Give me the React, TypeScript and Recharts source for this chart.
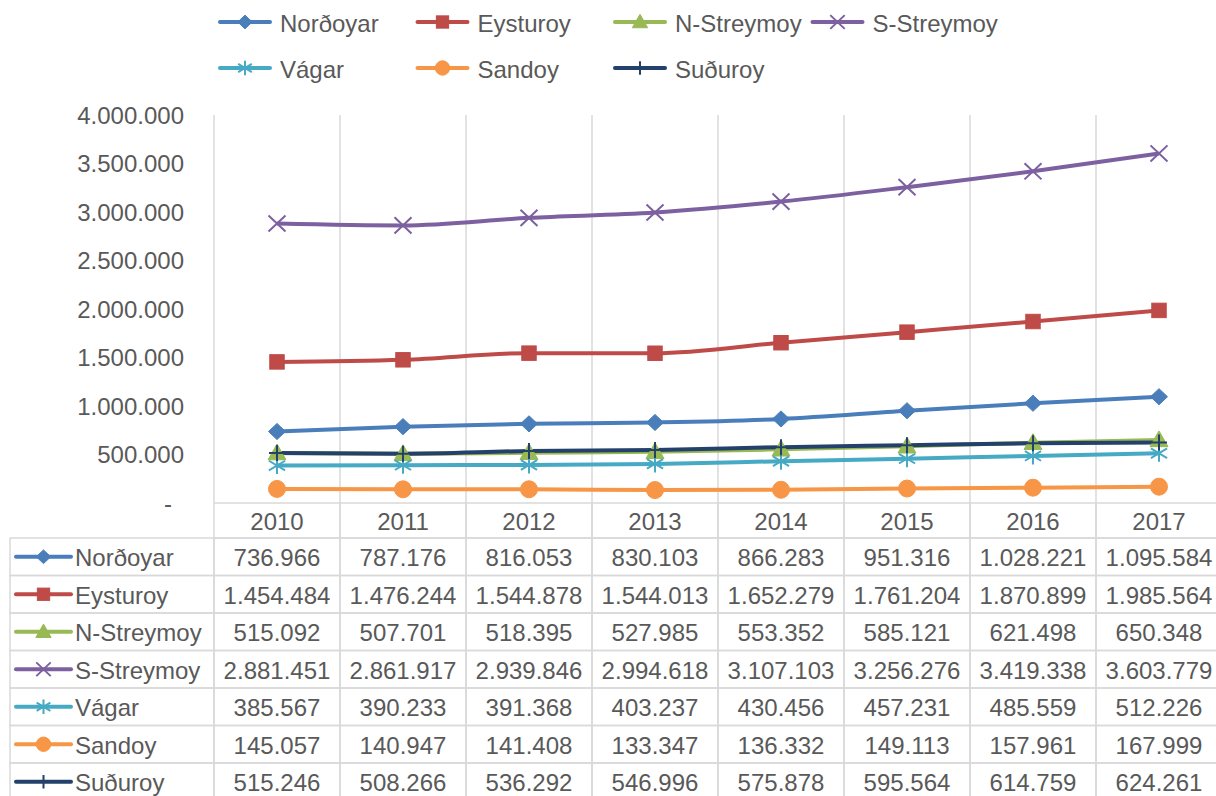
import React from 'react';
import { LineChart, Line, XAxis, YAxis, CartesianGrid } from 'recharts';

const years = ['2010', '2011', '2012', '2013', '2014', '2015', '2016', '2017'];
const nordoyar = [736966, 787176, 816053, 830103, 866283, 951316, 1028221, 1095584];
const eysturoy = [1454484, 1476244, 1544878, 1544013, 1652279, 1761204, 1870899, 1985564];
const nStreymoy = [515092, 507701, 518395, 527985, 553352, 585121, 621498, 650348];
const sStreymoy = [2881451, 2861917, 2939846, 2994618, 3107103, 3256276, 3419338, 3603779];
const vagar = [385567, 390233, 391368, 403237, 430456, 457231, 485559, 512226];
const sandoy = [145057, 140947, 141408, 133347, 136332, 149113, 157961, 167999];
const suduroy = [515246, 508266, 536292, 546996, 575878, 595564, 614759, 624261];
const yTicks = [0, 500000, 1000000, 1500000, 2000000, 2500000, 3000000, 3500000, 4000000];

type Shape = 'diamond' | 'square' | 'triangle' | 'x' | 'star' | 'circle' | 'plus';
interface Series { key: string; name: string; values: number[]; color: string; shape: Shape; }

const series: Series[] = [
  { key: 'nordoyar', name: 'Norðoyar', values: nordoyar, color: '#4A7EBB', shape: 'diamond' },
  { key: 'eysturoy', name: 'Eysturoy', values: eysturoy, color: '#BE4B48', shape: 'square' },
  { key: 'nStreymoy', name: 'N-Streymoy', values: nStreymoy, color: '#98B954', shape: 'triangle' },
  { key: 'sStreymoy', name: 'S-Streymoy', values: sStreymoy, color: '#7D60A0', shape: 'x' },
  { key: 'vagar', name: 'Vágar', values: vagar, color: '#46AAC5', shape: 'star' },
  { key: 'sandoy', name: 'Sandoy', values: sandoy, color: '#F79646', shape: 'circle' },
  { key: 'suduroy', name: 'Suðuroy', values: suduroy, color: '#23416B', shape: 'plus' },
];

const data = years.map((y, i) => {
  const row: Record<string, any> = { year: y };
  series.forEach((s) => { row[s.key] = s.values[i]; });
  return row;
});

// layout
const CHART_W = 1222;
const CHART_H = 796;
const Y_W = 214;
const TOP = 115;
const X_H = 293;
const BAND = (CHART_W - Y_W) / years.length;
const HEADER_H = 35;
const ROW_H = 37.5;
const TABLE_LEFT = 10;
const GRID = '#D9D9D9';
const TEXT = '#595959';
const FONT = "'Liberation Sans', Arial, sans-serif";
const FS = 24;

const fmt = (v: number) => String(v).replace(/\B(?=(\d{3})+(?!\d))/g, '.');

function Marker({ shape, cx, cy, color, s }: { shape: Shape; cx: number; cy: number; color: string; s: number }) {
  switch (shape) {
    case 'diamond':
      return <polygon points={`${cx},${cy - s * 0.95} ${cx + s},${cy} ${cx},${cy + s * 0.95} ${cx - s},${cy}`} fill={color} stroke={color} />;
    case 'square': {
      const h = s * 0.85;
      return <rect x={cx - h} y={cy - h} width={2 * h} height={2 * h} fill={color} stroke={color} />;
    }
    case 'triangle':
      return <polygon points={`${cx},${cy - s} ${cx + s},${cy + s * 0.75} ${cx - s},${cy + s * 0.75}`} fill={color} stroke={color} />;
    case 'x': {
      const h = s;
      return <path d={`M${cx - h},${cy - h * 0.95}L${cx + h},${cy + h * 0.95}M${cx - h},${cy + h * 0.95}L${cx + h},${cy - h * 0.95}`} stroke={color} strokeWidth={2} fill="none" />;
    }
    case 'star': {
      const h = s * 0.95;
      return <path d={`M${cx - h},${cy - h * 0.6}L${cx + h},${cy + h * 0.6}M${cx - h},${cy + h * 0.6}L${cx + h},${cy - h * 0.6}M${cx},${cy - s}L${cx},${cy + s}`} stroke={color} strokeWidth={2} fill="none" />;
    }
    case 'circle':
      return <circle cx={cx} cy={cy} r={s} fill={color} stroke={color} />;
    case 'plus':
      return <path d={`M${cx},${cy - s}L${cx},${cy + s}M${cx - s},${cy}L${cx + s},${cy}`} stroke={color} strokeWidth={2} fill="none" />;
  }
  return null;
}

const plotSize: Record<Shape, number> = { diamond: 8.5, square: 8.5, triangle: 9, x: 8.5, star: 8.5, circle: 8.5, plus: 8 };

function KeyIcon({ s, x, y, len, scale }: { s: Series; x: number; y: number; len: number; scale: number }) {
  return (
    <g>
      <line x1={x} y1={y} x2={x + len} y2={y} stroke={s.color} strokeWidth={4} strokeLinecap="round" />
      <Marker shape={s.shape} cx={x + len / 2} cy={y} color={s.color} s={plotSize[s.shape] * scale} />
    </g>
  );
}

function TableTick(props: any) {
  const { x, y, payload } = props;
  const i: number = props.index ?? payload.index;
  const half = BAND / 2;
  const els: React.ReactNode[] = [];
  els.push(<rect key="h" x={x - half} y={y} width={BAND} height={HEADER_H} fill="none" stroke={GRID} strokeWidth={1.5} />);
  els.push(
    <text key="ht" x={x} y={y + HEADER_H / 2 + 1} textAnchor="middle" dominantBaseline="central" fill={TEXT} fontSize={FS} fontFamily={FONT}>
      {payload.value}
    </text>
  );
  series.forEach((s, r) => {
    const ry = y + HEADER_H + r * ROW_H;
    els.push(<rect key={`r${r}`} x={x - half} y={ry} width={BAND} height={ROW_H} fill="none" stroke={GRID} strokeWidth={1.5} />);
    els.push(
      <text key={`t${r}`} x={x} y={ry + ROW_H / 2 + 1} textAnchor="middle" dominantBaseline="central" fill={TEXT} fontSize={FS} fontFamily={FONT}>
        {fmt(s.values[i])}
      </text>
    );
    if (i === 0) {
      const lx = TABLE_LEFT;
      const w = x - half - lx;
      els.push(<rect key={`l${r}`} x={lx} y={ry} width={w} height={ROW_H} fill="none" stroke={GRID} strokeWidth={1.5} />);
      els.push(<KeyIcon key={`k${r}`} s={s} x={lx + 6} y={ry + ROW_H / 2} len={55} scale={0.85} />);
      els.push(
        <text key={`n${r}`} x={lx + 65} y={ry + ROW_H / 2 + 1} textAnchor="start" dominantBaseline="central" fill={TEXT} fontSize={FS} fontFamily={FONT}>
          {s.name}
        </text>
      );
    }
  });
  return <g>{els}</g>;
}

function YTick(props: any) {
  const { x, y, payload } = props;
  const v = payload.value as number;
  return (
    <text x={v === 0 ? x - 12 : x} y={y} textAnchor="end" dominantBaseline="central" fill={TEXT} fontSize={FS} fontFamily={FONT}>
      {v === 0 ? '-' : fmt(v)}
    </text>
  );
}

const legendRows: Series[][] = [series.slice(0, 4), series.slice(4)];

function LegendOverlay() {
  return (
    <svg width={1216} height={100} style={{ position: 'absolute', left: 0, top: 0 }}>
      {legendRows.map((row, ri) =>
        row.map((s, ci) => {
          const x = 220 + ci * 197.5;
          const y = 22 + ri * 46;
          return (
            <g key={s.key}>
              <KeyIcon s={s} x={x} y={y} len={50} scale={0.85} />
              <text x={x + 60} y={y + 1} dominantBaseline="central" fill={TEXT} fontSize={FS} fontFamily={FONT}>
                {s.name}
              </text>
            </g>
          );
        })
      )}
    </svg>
  );
}

const gridX = (p: any) => {
  const left = p?.offset?.left ?? Y_W;
  const w = p?.offset?.width ?? CHART_W - Y_W;
  return Array.from({ length: years.length + 1 }, (_, k) => left + (k * w) / years.length);
};

export default function App() {
  return (
    <div style={{ position: 'absolute', left: 0, top: 0, width: 1216, height: 796, overflow: 'hidden', background: '#fff', fontFamily: FONT }}>
      <LineChart width={CHART_W} height={CHART_H} data={data} margin={{ top: TOP, right: 0, left: 0, bottom: 0 }}>
        <CartesianGrid horizontal={false} vertical stroke={GRID} strokeWidth={1.5} verticalCoordinatesGenerator={gridX} />
        <XAxis dataKey="year" scale="band" height={X_H} axisLine={false} tickLine={false} tickSize={0} tickMargin={0} interval={0} tick={<TableTick />} />
        <YAxis width={Y_W} domain={[0, 4000000]} ticks={yTicks} axisLine={false} tickLine={false} tickSize={0} tickMargin={30} interval={0} tick={<YTick />} />
        {series.map((s) => (
          <Line
            key={s.key}
            dataKey={s.key}
            name={s.name}
            type="monotone"
            stroke={s.color}
            strokeWidth={4}
            isAnimationActive={false}
            dot={(p: any) => <Marker key={`${s.key}-${p.index}`} shape={s.shape} cx={p.cx} cy={p.cy} color={s.color} s={plotSize[s.shape]} />}
            activeDot={false}
          />
        ))}
      </LineChart>
      <LegendOverlay />
    </div>
  );
}
